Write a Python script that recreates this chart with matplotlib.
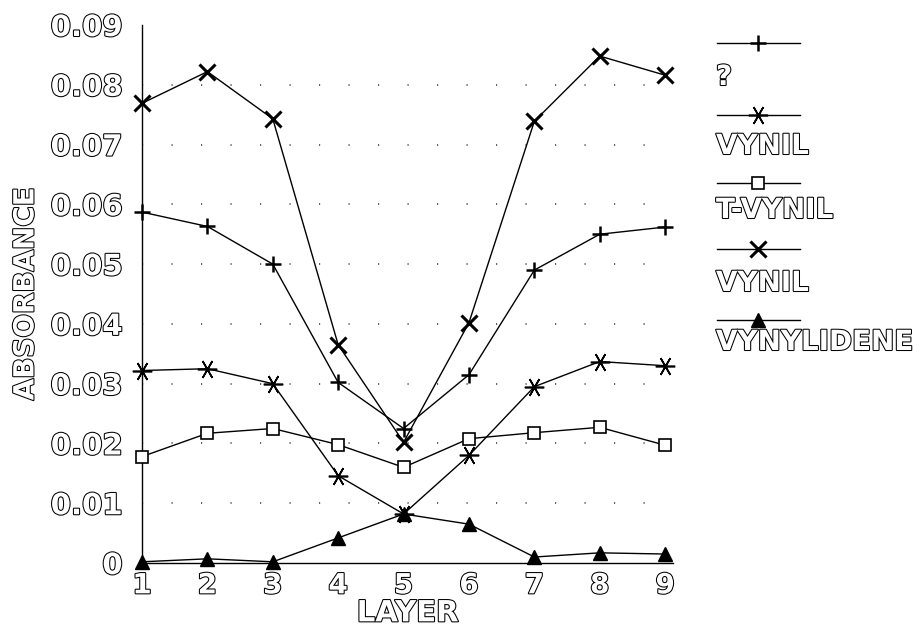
import numpy as np
import matplotlib
matplotlib.use('Agg')
import matplotlib.pyplot as plt
import matplotlib.patheffects as pe

# layer numbers on the x axis
layers = [1, 2, 3, 4, 5, 6, 7, 8, 9]

# absorbance readings per series
unknown = [0.0587, 0.0563, 0.0500, 0.0302, 0.0225, 0.0315, 0.0490, 0.0550, 0.0562]
vynil_a = [0.0322, 0.0325, 0.0300, 0.0146, 0.0082, 0.0180, 0.0295, 0.0337, 0.0330]
t_vynil = [0.0178, 0.0217, 0.0225, 0.0198, 0.0160, 0.0208, 0.0218, 0.0227, 0.0197]
vynil_b = [0.0769, 0.0822, 0.0743, 0.0365, 0.0202, 0.0402, 0.0739, 0.0848, 0.0816]
vynylidene = [0.0002, 0.0007, 0.0002, 0.0042, 0.0082, 0.0065, 0.0010, 0.0017, 0.0015]

series_labels = ['?', 'VYNIL', 'T-VYNIL', 'VYNIL', 'VYNYLIDENE']
y_ticks = [0, 0.01, 0.02, 0.03, 0.04, 0.05, 0.06, 0.07, 0.08, 0.09]
y_tick_labels = ['0', '0.01', '0.02', '0.03', '0.04', '0.05', '0.06', '0.07', '0.08', '0.09']

# marker styles for each series
styles = [
    dict(marker='+', markersize=11, mew=1.8, color='black'),
    dict(marker=(6, 2, 90), markersize=14, mew=1.2, color='black'),
    dict(marker='s', markersize=9, mew=1.2, color='black', mfc='white'),
    dict(marker='x', markersize=11, mew=2.2, color='black'),
    dict(marker='^', markersize=10, mew=1, color='black'),
]

outline = [pe.Stroke(linewidth=1.5, foreground='black'), pe.Normal()]
font = dict(family='DejaVu Sans', weight='bold', color='white', path_effects=outline)


def main():
    fig = plt.figure(figsize=(9.21, 6.31), dpi=100)
    ax = fig.add_axes([142 / 921, 1 - 563 / 631, (673 - 142) / 921, (563 - 25) / 631])

    all_series = [unknown, vynil_a, t_vynil, vynil_b, vynylidene]
    for vals, st in zip(all_series, styles):
        ax.plot(layers, vals, linewidth=1.0, clip_on=False, zorder=3, **st)

    ax.set_xlim(1, 9.12)
    ax.set_ylim(0, 0.09)
    ax.set_xticks(layers)
    ax.set_xticklabels([str(l) for l in layers], fontsize=20, **font)
    ax.set_yticks(y_ticks)
    ax.set_yticklabels(y_tick_labels, fontsize=21, **font)
    ax.tick_params(axis='y', length=0, pad=14)
    ax.tick_params(axis='x', length=0, pad=6)

    # sparse dotted horizontal grid
    for v in y_ticks[1:-1]:
        ax.axhline(v, color='#444444', linewidth=1.2, linestyle=(0, (0.7, 17)), zorder=1)

    for s in ['top', 'right']:
        ax.spines[s].set_visible(False)
    ax.spines['left'].set_linewidth(1.0)
    ax.spines['bottom'].set_linewidth(1.0)

    ax.set_xlabel('LAYER', fontsize=21, labelpad=0, **font)
    ax.set_ylabel('ABSORBANCE', fontsize=20, labelpad=8, **font)

    # legend: sample line with label underneath, in figure pixel space
    leg = fig.add_axes([0, 0, 1, 1], facecolor='none')
    leg.set_xlim(0, 921)
    leg.set_ylim(631, 0)
    leg.axis('off')
    line_y = [43, 115, 183, 249, 320]
    text_y = [77, 146, 210, 283, 342]
    for st, lab, ly, ty in zip(styles, series_labels, line_y, text_y):
        leg.plot([717, 800], [ly, ly], color='black', linewidth=1.0)
        leg.plot([758], [ly], linestyle='none', **st)
        leg.text(716, ty, lab, fontsize=20, va='center', ha='left', **font)

    fig.savefig('out.png', dpi=100)


if __name__ == '__main__':
    main()
